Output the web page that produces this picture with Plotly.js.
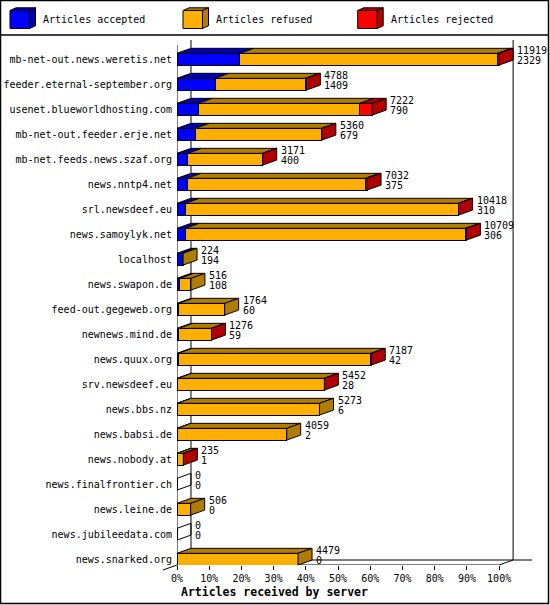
<!DOCTYPE html>
<html>
<head>
<meta charset="utf-8">
<script src="https://cdn.plot.ly/plotly-3.0.1.min.js"></script>
<style>
html, body { margin: 0; padding: 0; background: #fff; }
</style>
</head>
<body>
<div id="chart" style="width:550px;height:605px;"></div>
<script>
// servers, top to bottom
const servers = [
    "mb-net-out.news.weretis.net",
    "feeder.eternal-september.org",
    "usenet.blueworldhosting.com",
    "mb-net-out.feeder.erje.net",
    "mb-net.feeds.news.szaf.org",
    "news.nntp4.net",
    "srl.newsdeef.eu",
    "news.samoylyk.net",
    "localhost",
    "news.swapon.de",
    "feed-out.gegeweb.org",
    "newnews.mind.de",
    "news.quux.org",
    "srv.newsdeef.eu",
    "news.bbs.nz",
    "news.babsi.de",
    "news.nobody.at",
    "news.finalfrontier.ch",
    "news.leine.de",
    "news.jubileedata.com",
    "news.snarked.org"
];
// labels printed next to the bars
const totals   = [11919, 4788, 7222, 5360, 3171, 7032, 10418, 10709, 224, 516, 1764, 1276, 7187, 5452, 5273, 4059, 235, 0, 506, 0, 4479];
const accepted = [2329, 1409, 790, 679, 400, 375, 310, 306, 194, 108, 60, 59, 42, 28, 6, 2, 1, 0, 0, 0, 0];
// split
const refused  = [9528, 3334, 5977, 4669, 2763, 6597, 10098, 10373, 30, 408, 1704, 1209, 7135, 5416, 5267, 4057, 224, 0, 506, 0, 4479];
const rejected = [62, 45, 455, 12, 8, 60, 10, 30, 0, 0, 0, 8, 10, 8, 0, 0, 10, 0, 0, 0, 0];
const tickPercents = [0, 10, 20, 30, 40, 50, 60, 70, 80, 90, 100];

const maxTotal = Math.max(...totals);
const pct = v => v / maxTotal * 100;

const FONT = "DejaVu Sans Mono, monospace";
const W = 550, H = 605;
const M = { l: 177, r: 18, t: 40, b: 40 };
const XMAX = 110.2;
const YRANGE = [servers.length - 1 + 0.232, -0.768];
const DX = 4.34, DY = 0.2, HALF = 0.235;

const segs = [
    { name: "Articles accepted", vals: accepted, face: "#0000FF", dark: "#0000B0" },
    { name: "Articles refused",  vals: refused,  face: "#FFAF00", dark: "#B07D00" },
    { name: "Articles rejected", vals: rejected, face: "#FF0000", dark: "#B00000" }
];

const idx = servers.map((s, i) => i);

const traces = segs.map(seg => ({
    type: "bar",
    orientation: "h",
    name: seg.name,
    y: idx,
    x: seg.vals.map(pct),
    width: 2 * HALF,
    marker: { color: seg.face, line: { color: "#000", width: 1 } },
    hoverinfo: "skip"
}));

// helpers for paper coordinates
const plotW = W - M.l - M.r, plotH = H - M.t - M.b;
const pxX = p => (p - M.l) / plotW;
const pxY = p => (H - M.b - p) / plotH;
const dataToPaperX = v => v / XMAX;
const dataToPaperY = v => (YRANGE[0] - v) / (YRANGE[0] - YRANGE[1]);

function path(pts) {
    return "M " + pts.map(p => p[0] + "," + p[1]).join(" L ") + " Z";
}
function poly(pts, fill, ref) {
    return {
        type: "path", path: path(pts),
        xref: ref || "x", yref: ref || "y",
        fillcolor: fill, line: { color: "#000", width: 1 }, layer: "above"
    };
}
function line(x0, y0, x1, y1, ref, w) {
    return {
        type: "line", x0: x0, y0: y0, x1: x1, y1: y1,
        xref: ref || "x", yref: ref || "y",
        line: { color: "#000", width: w || 1 }, layer: "below"
    };
}

const shapes = [];
const yTop = YRANGE[1], yBot = YRANGE[0];

// 3D frame
shapes.push(line(DX, yTop, DX, yBot - DY));
shapes.push(line(100 + DX, yTop, 100 + DX, yBot - DY));
shapes.push(line(0, yTop + DY, 0, yBot));
shapes.push(line(DX, yBot - DY, XMAX, yBot - DY));
shapes.push(line(0, yBot, 100, yBot));
shapes.push(line(100, yBot, 100 + DX, yBot - DY));
shapes.push(line(dataToPaperX(DX), dataToPaperY(yBot - DY), dataToPaperX(-DX), dataToPaperY(yBot + DY), "paper"));

// top and side faces
servers.forEach((s, i) => {
    const y0 = i - HALF, y1 = i + HALF;
    let x = 0, last = null;
    segs.forEach(seg => {
        const w = pct(seg.vals[i]);
        if (w > 0) {
            shapes.push(poly([[x, y0], [x + w, y0], [x + w + DX, y0 - DY], [x + DX, y0 - DY]], seg.dark));
            x += w;
            last = seg;
        }
    });
    shapes.push(poly([[x, y0], [x, y1], [x + DX, y1 - DY], [x + DX, y0 - DY]], last ? last.dark : "rgba(0,0,0,0)"));
});

// outer border and legend strip
shapes.push({ type: "rect", xref: "paper", yref: "paper", x0: pxX(0.5), x1: pxX(548.5), y0: pxY(0.5), y1: pxY(603.5),
    line: { color: "#000", width: 1.5 }, layer: "below" });
shapes.push(line(pxX(0), pxY(35), pxX(549), pxY(35), "paper", 1.5));

const annotations = [];

// legend cubes
const legendX = [10, 183, 357.7];
segs.forEach((seg, k) => {
    const x0 = legendX[k], x1 = x0 + 19.5, t = 10.5, b = 28.5, dx = 6, dy = 2.7;
    shapes.push(poly([[pxX(x0), pxY(t)], [pxX(x1), pxY(t)], [pxX(x1 + dx), pxY(t - dy)], [pxX(x0 + dx), pxY(t - dy)]], seg.dark, "paper"));
    shapes.push(poly([[pxX(x1), pxY(t)], [pxX(x1), pxY(b)], [pxX(x1 + dx), pxY(b - dy)], [pxX(x1 + dx), pxY(t - dy)]], seg.dark, "paper"));
    shapes.push(poly([[pxX(x0), pxY(t)], [pxX(x1), pxY(t)], [pxX(x1), pxY(b)], [pxX(x0), pxY(b)]], seg.face, "paper"));
    annotations.push({
        xref: "paper", yref: "paper", x: pxX(x1 + dx + 5.5), y: pxY(20),
        xanchor: "left", yanchor: "middle", showarrow: false,
        text: seg.name, font: { family: FONT, size: 10, color: "#000" }
    });
});

// value labels
servers.forEach((s, i) => {
    const xEnd = pct(totals[i]) + DX;
    [[totals[i], 9], [accepted[i], -1]].forEach(([v, sh]) => {
        annotations.push({
            x: xEnd, y: i, xref: "x", yref: "y",
            xanchor: "left", yanchor: "middle", xshift: 2, yshift: sh,
            showarrow: false, text: String(v),
            font: { family: FONT, size: 10, color: "#000" }
        });
    });
});

// axis title
annotations.push({
    xref: "x", yref: "paper", x: 0, y: 0, xanchor: "left", yanchor: "middle",
    xshift: 2, yshift: -27, showarrow: false,
    text: "<b>Articles received by server</b>",
    font: { family: FONT, size: 11.5, color: "#000" }
});

const layout = {
    width: W, height: H,
    margin: M,
    barmode: "stack",
    showlegend: false,
    paper_bgcolor: "#fff",
    plot_bgcolor: "#fff",
    font: { family: FONT, size: 10, color: "#000" },
    xaxis: {
        range: [0, XMAX],
        tickmode: "array",
        tickvals: tickPercents,
        ticktext: tickPercents.map(p => p + "%"),
        ticks: "outside", ticklen: 4, tickcolor: "#000", tickwidth: 1,
        showgrid: false, zeroline: false, showline: false,
        tickfont: { family: FONT, size: 10, color: "#000" },
        fixedrange: true
    },
    yaxis: {
        range: YRANGE,
        tickmode: "array",
        tickvals: idx,
        ticktext: servers,
        ticks: "",
        ticklabelstandoff: 4,
        showgrid: false, zeroline: false, showline: false,
        tickfont: { family: FONT, size: 10, color: "#000" },
        fixedrange: true
    },
    shapes: shapes,
    annotations: annotations
};

Plotly.newPlot("chart", traces, layout, { displayModeBar: false, staticPlot: true });
</script>
</body>
</html>
